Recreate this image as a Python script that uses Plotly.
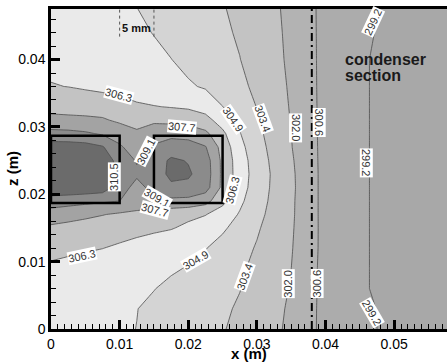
import plotly.graph_objects as go

# ---- grid (m) ----
x_nodes = [0.0, 0.0025, 0.005, 0.0075, 0.01, 0.0125, 0.015, 0.0175, 0.02, 0.0225,
           0.025, 0.0275, 0.03, 0.0325, 0.035, 0.0375, 0.04, 0.043, 0.046, 0.05,
           0.054, 0.058]
z_nodes = [0.0, 0.003, 0.006, 0.009, 0.012, 0.015, 0.017, 0.019, 0.021, 0.023,
           0.025, 0.027, 0.029, 0.031, 0.033, 0.036, 0.04, 0.044, 0.0475]

# temperature field (K), one row per z node
temperature = [
    [305.40, 305.29, 305.18, 305.07, 305.00, 304.84, 304.58, 304.31, 304.05, 303.78, 303.51, 303.14, 302.71, 302.28, 301.73, 300.99, 300.15, 299.73, 299.32, 298.95, 298.80, 298.65],
    [305.50, 305.37, 305.25, 305.12, 304.99, 304.87, 304.64, 304.38, 304.13, 303.87, 303.61, 303.30, 302.83, 302.36, 301.81, 301.01, 300.15, 299.70, 299.27, 299.00, 298.80, 298.60],
    [305.70, 305.56, 305.42, 305.29, 305.15, 305.02, 304.88, 304.63, 304.34, 304.05, 303.76, 303.47, 302.98, 302.47, 301.93, 301.06, 300.15, 299.68, 299.20, 299.00, 298.80, 298.60],
    [306.05, 305.90, 305.74, 305.59, 305.44, 305.28, 305.13, 304.98, 304.79, 304.40, 304.01, 303.62, 303.14, 302.58, 302.02, 301.09, 300.15, 299.68, 299.20, 299.00, 298.80, 298.60],
    [306.65, 306.53, 306.41, 306.29, 306.08, 305.84, 305.61, 305.37, 305.13, 304.90, 304.42, 303.88, 303.33, 302.71, 302.10, 301.18, 300.15, 299.68, 299.20, 299.00, 298.80, 298.60],
    [307.45, 307.29, 307.13, 306.98, 306.82, 306.66, 306.50, 306.35, 306.02, 305.53, 305.04, 304.38, 303.59, 302.87, 302.17, 301.20, 300.15, 299.68, 299.20, 299.00, 298.80, 298.60],
    [308.43, 308.20, 307.97, 307.74, 307.50, 307.27, 307.03, 306.80, 306.56, 306.33, 305.61, 304.74, 303.83, 302.99, 302.22, 301.19, 300.15, 299.68, 299.20, 299.00, 298.80, 298.60],
    [309.85, 309.67, 309.48, 309.30, 309.11, 308.70, 308.70, 308.75, 308.70, 308.20, 306.64, 305.13, 304.04, 303.09, 302.24, 301.19, 300.15, 299.68, 299.20, 299.00, 298.80, 298.60],
    [311.60, 311.60, 311.50, 311.30, 309.80, 308.60, 309.60, 310.30, 310.20, 309.70, 307.36, 305.46, 304.18, 303.17, 302.29, 301.19, 300.15, 299.68, 299.20, 299.00, 298.80, 298.60],
    [312.00, 312.00, 311.90, 311.60, 310.30, 309.35, 309.90, 310.80, 310.70, 309.90, 307.37, 305.56, 304.25, 303.20, 302.26, 301.19, 300.15, 299.68, 299.20, 299.00, 298.80, 298.60],
    [311.90, 311.90, 311.80, 311.40, 310.00, 309.00, 309.80, 310.75, 310.45, 309.80, 307.36, 305.50, 304.16, 303.10, 302.18, 301.15, 300.15, 299.68, 299.20, 299.00, 298.80, 298.60],
    [311.20, 311.20, 311.10, 310.65, 309.30, 308.40, 309.30, 309.80, 309.70, 309.20, 307.16, 305.26, 303.98, 302.98, 302.07, 301.12, 300.15, 299.68, 299.20, 299.00, 298.80, 298.60],
    [309.57, 309.50, 309.30, 308.95, 308.50, 307.90, 308.40, 308.70, 308.60, 308.00, 306.58, 304.92, 303.78, 302.86, 302.03, 301.09, 300.15, 299.68, 299.20, 299.00, 298.80, 298.60],
    [308.06, 308.00, 307.95, 307.85, 307.45, 307.23, 307.45, 307.28, 307.11, 306.74, 305.64, 304.48, 303.54, 302.75, 301.96, 301.07, 300.15, 299.68, 299.20, 299.00, 298.80, 298.60],
    [307.26, 307.20, 307.13, 307.03, 306.80, 306.46, 306.32, 306.20, 306.08, 305.71, 304.87, 304.13, 303.40, 302.68, 301.90, 301.05, 300.15, 299.68, 299.20, 299.00, 298.80, 298.60],
    [306.33, 306.25, 306.10, 305.95, 305.80, 305.62, 305.43, 305.23, 305.00, 304.72, 304.21, 303.72, 303.17, 302.52, 301.84, 301.02, 300.15, 299.68, 299.20, 299.00, 298.80, 298.60],
    [305.95, 305.88, 305.75, 305.60, 305.45, 305.27, 305.07, 304.87, 304.51, 304.16, 303.81, 303.46, 302.92, 302.37, 301.76, 301.00, 300.15, 299.68, 299.20, 299.00, 298.80, 298.60],
    [305.80, 305.67, 305.53, 305.38, 305.20, 305.03, 304.82, 304.50, 304.22, 303.93, 303.64, 303.29, 302.79, 302.30, 301.71, 300.98, 300.15, 299.70, 299.25, 299.00, 298.80, 298.60],
    [305.60, 305.50, 305.38, 305.26, 305.10, 304.87, 304.60, 304.33, 304.06, 303.79, 303.52, 303.13, 302.68, 302.23, 301.66, 300.96, 300.15, 299.75, 299.35, 298.95, 298.85, 298.70],
]

# contour levels
level_start = 299.18
level_step = 1.418
level_count = 9
levels = [level_start + k * level_step for k in range(level_count)]

# grey shade of each band, coldest first
band_colors = ["#a8a8a8", "#acacac", "#b3b3b3", "#c3c3c3", "#d4d4d4",
               "#eaeaea", "#c3c3c3", "#a3a3a3", "#8b8b8b", "#6b6b6b"]

# heater blocks (m)
heater_x0 = [0.0, 0.015]
heater_x1 = [0.01, 0.025]
heater_z0 = [0.0187, 0.0187]
heater_z1 = [0.0287, 0.0287]

# start of the condenser section (m)
condenser_x = 0.038

# 5 mm scale bar (m)
scale_x = [0.010, 0.015]
scale_z = [0.0434, 0.0475]

# contour labels: level index, position (m), text angle (deg)
label_level = [5, 6, 4, 3, 2, 1, 0, 0, 7, 8, 7, 6, 5, 5, 4, 3, 2, 1, 0]
label_x = [0.0099, 0.0191, 0.0265, 0.0309, 0.0356, 0.0391, 0.0469, 0.0460, 0.0139, 0.0092,
           0.0155, 0.0152, 0.0264, 0.0045, 0.0211, 0.0283, 0.0346, 0.0388, 0.0468]
label_z = [0.0348, 0.0300, 0.0311, 0.0312, 0.0298, 0.0306, 0.0456, 0.0247, 0.0264, 0.0226,
           0.0194, 0.0176, 0.0207, 0.0109, 0.0102, 0.0078, 0.0068, 0.0068, 0.0024]
label_angle = [15, 5, 55, 70, 90, 90, -65, 90, -63, -90,
               30, 15, -75, -12, -30, -70, -90, -90, 60]

x_ticks = [0, 0.01, 0.02, 0.03, 0.04, 0.05]
x_tick_text = ["0", "0.01", "0.02", "0.03", "0.04", "0.05"]
z_ticks = [0, 0.01, 0.02, 0.03, 0.04]
z_tick_text = ["0", "0.01", "0.02", "0.03", "0.04"]

FONT = "Liberation Sans, Arial, Helvetica, sans-serif"
n_bands = len(band_colors)
colorscale = [[j / (n_bands - 1), c] for j, c in enumerate(band_colors)]

fig = go.Figure(go.Contour(
    x=x_nodes, y=z_nodes, z=temperature,
    autocontour=False,
    contours=dict(start=levels[0], end=levels[-1] + 0.005, size=level_step,
                  coloring="fill", showlines=True),
    colorscale=colorscale,
    showscale=False,
    line=dict(color="#4d4d4d", width=0.8, smoothing=0),
    hoverinfo="skip",
))

shapes = []
for x0, x1, z0, z1 in zip(heater_x0, heater_x1, heater_z0, heater_z1):
    shapes.append(dict(type="rect", xref="x", yref="y", x0=x0, x1=x1, y0=z0, y1=z1,
                       line=dict(color="black", width=2.5), fillcolor="rgba(0,0,0,0)"))
shapes.append(dict(type="line", xref="x", yref="y", x0=condenser_x, x1=condenser_x,
                   y0=0, y1=z_nodes[-1], line=dict(color="black", width=2, dash="8px,4px,2px,4px")))
for sx in scale_x:
    shapes.append(dict(type="line", xref="x", yref="y", x0=sx, x1=sx,
                       y0=scale_z[0], y1=scale_z[1], line=dict(color="#555", width=1, dash="3px,3px")))

annotations = []
for idx, lx, lz, ang in zip(label_level, label_x, label_z, label_angle):
    annotations.append(dict(x=lx, y=lz, xref="x", yref="y", text=f"{levels[idx]:.1f}",
                            showarrow=False, textangle=ang, bgcolor="white", borderpad=0,
                            font=dict(family=FONT, size=11, color="#333")))
annotations.append(dict(x=sum(scale_x) / 2, y=0.0447, xref="x", yref="y", text="<b>5 mm</b>",
                        showarrow=False, font=dict(family=FONT, size=11, color="#111")))
annotations.append(dict(x=0.0426, y=0.0400, xref="x", yref="y", text="<b>condenser</b>",
                        showarrow=False, xanchor="left", font=dict(family=FONT, size=16, color="#1a1a1a")))
annotations.append(dict(x=0.0426, y=0.0377, xref="x", yref="y", text="<b>section</b>",
                        showarrow=False, xanchor="left", font=dict(family=FONT, size=16, color="#1a1a1a")))
annotations.append(dict(x=0.5, y=0, xref="paper", yref="paper", yanchor="top", yshift=-14,
                        text="<b>x (m)</b>", showarrow=False, font=dict(family=FONT, size=15, color="black")))
annotations.append(dict(x=0, y=0.5, xref="paper", yref="paper", xanchor="center", xshift=-39,
                        text="<b>z (m)</b>", textangle=-90, showarrow=False,
                        font=dict(family=FONT, size=15, color="black")))

axis_common = dict(showgrid=False, zeroline=False, showline=True, linecolor="black", linewidth=2.5,
                   ticks="inside", ticklen=9, tickwidth=2.5, tickcolor="black",
                   tickfont=dict(family=FONT, size=14, color="black"))

fig.update_layout(
    width=447, height=362,
    margin=dict(l=51, r=0, t=9, b=33),
    paper_bgcolor="white", plot_bgcolor="white",
    shapes=shapes, annotations=annotations,
    xaxis=dict(range=[0, 0.0577], tickvals=x_ticks, ticktext=x_tick_text, mirror=True,
               minor=dict(dtick=0.001, ticks="inside", ticklen=5, tickwidth=1, tickcolor="black"),
               **axis_common),
    yaxis=dict(range=[0, 0.0475], tickvals=z_ticks, ticktext=z_tick_text,
               minor=dict(dtick=0.002, ticks="inside", ticklen=5, tickwidth=1, tickcolor="black"),
               **axis_common),
    showlegend=False,
)

fig.write_html("out.html")
